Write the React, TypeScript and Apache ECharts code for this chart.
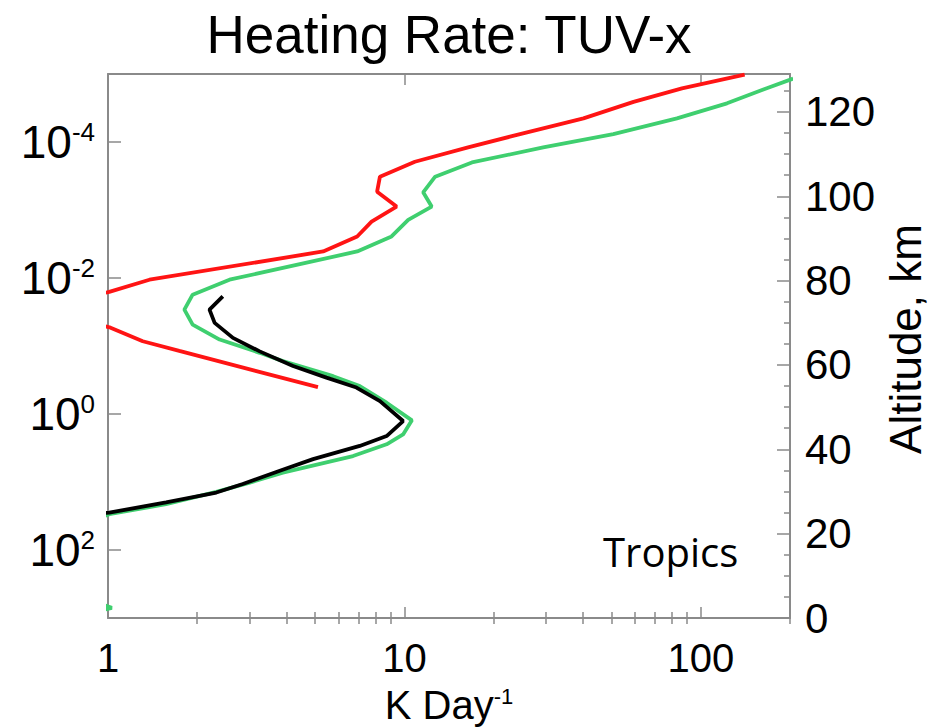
import React, { useEffect, useRef } from "react";
import * as echarts from "echarts";

// ---- Data ----
// Heating rate (K/day) and pressure (hPa) along each profile
const redRate = [140.6, 86.4, 59.3, 40.2, 22.7, 16.4, 10.85, 8.27, 8.09, 9.41, 7.75, 6.93, 5.32, 1.38, 1.01, 0.55, 1.02, 1.31, 1.74, 5.11];
const redPressure = [1.02e-5, 1.63e-5, 2.57e-5, 4.49e-5, 8.36e-5, 1.2e-4, 1.95e-4, 3.24e-4, 5.37e-4, 8.91e-4, 1.48e-3, 2.45e-3, 4.07e-3, 1.06e-2, 1.6e-2, 2.82e-2, 5.37e-2, 8.51e-2, 0.118, 0.403];

const greenRate = [205, 167, 122.6, 83.1, 50.7, 29.4, 16.9, 12.7, 11.57, 12.36, 10.3, 9.05, 6.93, 2.57, 1.93, 1.81, 1.93, 2.38, 3.25, 3.89, 5.75, 7.07, 8.71, 10.6, 9.9, 8.71, 6.71, 3.89, 3.01, 2.32, 1.57, 1.01, 0.4, 1.03, 0.5];
const greenPressure = [1.17e-5, 1.62e-5, 2.7e-5, 4.49e-5, 7.64e-5, 1.2e-4, 2.0e-4, 3.24e-4, 5.5e-4, 8.91e-4, 1.4e-3, 2.45e-3, 4.07e-3, 1.06e-2, 1.76e-2, 2.92e-2, 4.84e-2, 8.04e-2, 0.126, 0.167, 0.278, 0.389, 0.682, 1.24, 2.0, 2.79, 4.15, 7.28, 10.2, 14.0, 21.2, 29.7, 158, 708, 1585];

const blackRate = [2.44, 2.2, 2.29, 2.64, 3.25, 4.21, 5.46, 6.89, 8.27, 9.9, 8.71, 7.07, 4.92, 3.8, 2.85, 2.32, 1.57, 1.01, 0.9];
const blackPressure = [1.86e-2, 2.92e-2, 4.57e-2, 7.59e-2, 0.12, 0.197, 0.292, 0.408, 0.646, 1.27, 2.11, 2.95, 4.61, 6.85, 10.7, 14.3, 20.0, 28.2, 29.5];

// ---- Ticks ----
const rateTicks = [1, 10, 100];
const rateTickLabels = ["1", "10", "100"];
const rateMinorTicks = [2, 3, 4, 5, 6, 7, 8, 9, 20, 30, 40, 50, 60, 70, 80, 90, 200];
const pressureTicks = [1e-4, 1e-2, 1, 1e2];
const pressureExponents = ["-4", "-2", "0", "2"];
const altitudeTicks = [0, 20, 40, 60, 80, 100, 120];
const altitudeMinorTicks = [5, 10, 15, 25, 30, 35, 45, 50, 55, 65, 70, 75, 85, 90, 95, 105, 110, 115, 125];

const zip = (xs: number[], ys: number[]) => xs.map((x, i) => [x, ys[i]]);

const FONT = "'Liberation Sans', Arial, Helvetica, sans-serif";
const GRAY = "#8a8a8a";

export default function App() {
  const ref = useRef<HTMLDivElement>(null);
  useEffect(() => {
    document.body.style.margin = "0";
    const chart = echarts.init(ref.current!, null, { renderer: "svg" });

    const rateBase = {
      type: "log",
      logBase: 10,
      min: 1,
      max: 200,
      splitLine: { show: false },
      minorTick: { show: false },
      minorSplitLine: { show: false },
    };
    const axisLine = { show: true, onZero: false, lineStyle: { color: GRAY, width: 2 } };
    const tickLine = { color: GRAY, width: 1.5 };

    const option: any = {
      animation: false,
      backgroundColor: "#ffffff",
      title: {
        text: "Heating Rate: TUV-x",
        left: 449,
        top: 8,
        textAlign: "center",
        padding: 0,
        textStyle: { fontSize: 53, fontWeight: "normal", color: "#000", fontFamily: FONT },
      },
      grid: { left: 108, right: 142, top: 74, bottom: 110, containLabel: false, outerBoundsMode: "none" },
      xAxis: [
        {
          ...rateBase,
          position: "bottom",
          axisLine,
          axisTick: { show: true, inside: true, length: 11, customValues: rateTicks, lineStyle: tickLine },
          axisLabel: {
            show: true,
            customValues: rateTicks,
            margin: 20,
            fontSize: 40,
            color: "#000",
            fontFamily: FONT,
            formatter: (v: number) => {
              const i = rateTicks.findIndex((t) => Math.abs(Math.log10(t) - Math.log10(v)) < 0.01);
              return i >= 0 ? rateTickLabels[i] : "";
            },
          },
          name: "{a|K Day}{s|-1}",
          nameLocation: "middle",
          nameGap: 67,
          nameTextStyle: {
            rich: {
              a: { fontSize: 40, fontFamily: FONT, color: "#000", lineHeight: 40 },
              s: { fontSize: 22, fontFamily: FONT, color: "#000", verticalAlign: "top", lineHeight: 22 },
            },
          },
        },
        {
          ...rateBase,
          position: "bottom",
          axisLine: { show: false },
          axisTick: { show: true, inside: true, length: 6, customValues: rateMinorTicks, lineStyle: tickLine },
          axisLabel: { show: false },
        },
        {
          ...rateBase,
          position: "top",
          axisLine,
          axisTick: { show: true, inside: true, length: 11, customValues: rateTicks, lineStyle: tickLine },
          axisLabel: { show: false },
        },
        {
          ...rateBase,
          position: "top",
          axisLine: { show: false },
          axisTick: { show: true, inside: true, length: 6, customValues: rateMinorTicks, lineStyle: tickLine },
          axisLabel: { show: false },
        },
      ],
      yAxis: [
        {
          type: "log",
          logBase: 10,
          min: 1e-5,
          max: 1e3,
          inverse: true,
          position: "left",
          splitLine: { show: false },
          minorTick: { show: false },
          axisLine,
          axisTick: { show: true, inside: true, length: 13, customValues: pressureTicks, lineStyle: tickLine },
          axisLabel: {
            show: true,
            customValues: pressureTicks,
            margin: 13,
            formatter: (v: number) => {
              const i = pressureTicks.findIndex((t) => Math.abs(Math.log10(t) - Math.log10(v)) < 0.01);
              return i >= 0 ? `{b|10}{s|${pressureExponents[i]}}` : "";
            },
            rich: {
              b: { fontSize: 46, fontFamily: FONT, color: "#000", lineHeight: 46 },
              s: { fontSize: 26, fontFamily: FONT, color: "#000", verticalAlign: "top", lineHeight: 24 },
            },
          },
        },
        {
          type: "value",
          min: 0,
          max: 129,
          position: "right",
          splitLine: { show: false },
          axisLine,
          axisTick: { show: true, inside: true, length: 13, customValues: altitudeTicks, lineStyle: tickLine },
          axisLabel: {
            show: true,
            customValues: altitudeTicks,
            margin: 15,
            fontSize: 42,
            color: "#000",
            fontFamily: FONT,
          },
        },
        {
          type: "value",
          min: 0,
          max: 129,
          position: "right",
          splitLine: { show: false },
          axisLine: { show: false },
          axisTick: { show: true, inside: true, length: 6, customValues: altitudeMinorTicks, lineStyle: tickLine },
          axisLabel: { show: false },
        },
      ],
      graphic: [
        {
          type: "text",
          x: 905,
          y: 339,
          rotation: Math.PI / 2,
          style: {
            text: "Altitude, km",
            fontSize: 44,
            fontFamily: FONT,
            fill: "#000",
            align: "center",
            verticalAlign: "middle",
            textAlign: "center",
            textVerticalAlign: "middle",
          },
        },
        {
          type: "text",
          x: 603,
          y: 551,
          style: {
            text: "Tropics",
            fontSize: 40,
            fontFamily: "'Open Sans', 'Noto Sans', sans-serif",
            fill: "#000",
            align: "left",
            verticalAlign: "middle",
            textAlign: "left",
            textVerticalAlign: "middle",
          },
        },
      ],
      series: [
        {
          name: "Green profile",
          type: "line",
          xAxisIndex: 0,
          yAxisIndex: 0,
          data: zip(greenRate, greenPressure),
          showSymbol: false,
          symbol: "none",
          clip: true,
          lineStyle: { color: "#3fcf6f", width: 3.8 },
          z: 2,
        },
        {
          name: "Red profile",
          type: "line",
          xAxisIndex: 0,
          yAxisIndex: 0,
          data: zip(redRate, redPressure),
          showSymbol: false,
          symbol: "none",
          clip: true,
          lineStyle: { color: "#ff1414", width: 3.8 },
          z: 3,
        },
        {
          name: "Black profile",
          type: "line",
          xAxisIndex: 0,
          yAxisIndex: 0,
          data: zip(blackRate, blackPressure),
          showSymbol: false,
          symbol: "none",
          clip: true,
          lineStyle: { color: "#000000", width: 3.8 },
          z: 4,
        },
      ],
    };

    chart.setOption(option);
    return () => chart.dispose();
  }, []);

  return <div ref={ref} style={{ width: 932, height: 728, position: "absolute", left: 0, top: 0 }} />;
}
